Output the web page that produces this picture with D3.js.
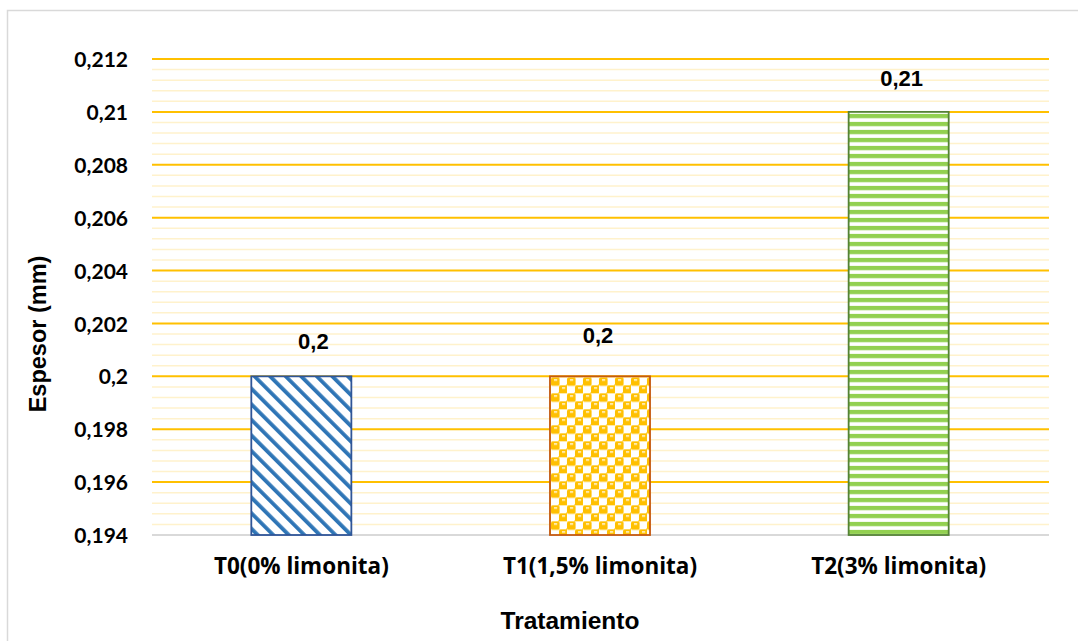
<!DOCTYPE html>
<html>
<head>
<meta charset="utf-8">
<script src="https://cdn.jsdelivr.net/npm/d3@7/dist/d3.min.js"></script>
<style>
  html, body { margin: 0; padding: 0; background: #ffffff; }
  svg { display: block; }
</style>
</head>
<body>
<svg id="chart" width="1078" height="641"></svg>
<script>
// Thickness by treatment
const categories = ["T0(0% limonita)", "T1(1,5% limonita)", "T2(3% limonita)"];
const espesor = [0.2, 0.2, 0.21];
const yTicks = [0.194, 0.196, 0.198, 0.2, 0.202, 0.204, 0.206, 0.208, 0.21, 0.212];
const yTickLabels = ["0,194", "0,196", "0,198", "0,2", "0,202", "0,204", "0,206", "0,208", "0,21", "0,212"];
const valueLabels = ["0,2", "0,2", "0,21"];

const W = 1078, H = 641;
const plot = { left: 152, right: 1048, top: 59, bottom: 535 };

const svg = d3.select("#chart");

svg.append("rect").attr("width", W).attr("height", H).attr("fill", "#ffffff");
// chart frame
svg.append("rect")
  .attr("x", 7.5).attr("y", 10.5).attr("width", 1200).attr("height", 800)
  .attr("fill", "none").attr("stroke", "#d9d9d9").attr("stroke-width", 1.5);

const y = d3.scaleLinear().domain([0.194, 0.212]).range([plot.bottom, plot.top]);
const x = d3.scaleBand().domain(categories).range([plot.left, plot.right])
  .paddingInner(0.665).paddingOuter(0.3325);

// fill patterns for each bar
const defs = svg.append("defs");
const barStyle = [
  { id: "patDiag", stroke: "#2F5597" },
  { id: "patSphere", stroke: "#C55A11" },
  { id: "patHoriz", stroke: "#548235" }
];

function barTop(i) { return y(espesor[i]); }

// T0: wide downward diagonal
const p0 = defs.append("pattern").attr("id", "patDiag")
  .attr("patternUnits", "userSpaceOnUse").attr("width", 11).attr("height", 11)
  .attr("patternTransform", "rotate(-45)");
p0.append("rect").attr("width", 11).attr("height", 11).attr("fill", "#ffffff");
p0.append("rect").attr("x", 0).attr("width", 3.8).attr("height", 11).attr("fill", "#2E75B6");

// T1: sphere checker
const p1 = defs.append("pattern").attr("id", "patSphere")
  .attr("patternUnits", "userSpaceOnUse").attr("width", 16).attr("height", 16)
  .attr("x", x(categories[1]) + 1).attr("y", barTop(1) + 1);
p1.append("rect").attr("width", 16).attr("height", 16).attr("fill", "#ffffff");
[[0, 0], [8, 8]].forEach(([cx, cy]) => {
  p1.append("rect").attr("x", cx).attr("y", cy).attr("width", 8.6).attr("height", 8.6)
    .attr("rx", 1.6).attr("fill", "#FFC000");
  p1.append("rect").attr("x", cx + 3).attr("y", cy + 2).attr("width", 3.2).attr("height", 1.3)
    .attr("fill", "#ffffff");
});
// wrap-around corners keep the checker continuous
p1.append("rect").attr("x", 15.2).attr("y", 7.2).attr("width", 1.6).attr("height", 2).attr("fill", "#FFC000");
p1.append("rect").attr("x", 7.2).attr("y", 15.2).attr("width", 2).attr("height", 1.6).attr("fill", "#FFC000");

// T2: horizontal stripes
const p2 = defs.append("pattern").attr("id", "patHoriz")
  .attr("patternUnits", "userSpaceOnUse").attr("width", 8).attr("height", 8)
  .attr("x", 0).attr("y", barTop(2) + 2);
p2.append("rect").attr("width", 8).attr("height", 8).attr("fill", "#ffffff");
p2.append("rect").attr("y", 0).attr("width", 8).attr("height", 4.3).attr("fill", "#92D050");

// minor gridlines
const minor = d3.range(0, 46).filter(i => i % 5 !== 0).map(i => 0.194 + i * 0.0004);
svg.append("g").selectAll("line").data(minor).join("line")
  .attr("x1", plot.left).attr("x2", plot.right + 1)
  .attr("y1", d => y(d)).attr("y2", d => y(d))
  .attr("stroke", "#FFF2CC").attr("stroke-width", 1.5);

// major gridlines
svg.append("g").selectAll("line").data(yTicks.slice(1)).join("line")
  .attr("x1", plot.left).attr("x2", plot.right + 1)
  .attr("y1", d => y(d)).attr("y2", d => y(d))
  .attr("stroke", "#FFC000").attr("stroke-width", 2);

// category axis line
svg.append("line")
  .attr("x1", plot.left).attr("x2", plot.right + 1)
  .attr("y1", y(0.194)).attr("y2", y(0.194))
  .attr("stroke", "#d9d9d9").attr("stroke-width", 2);

// bars
svg.append("g").selectAll("rect").data(espesor).join("rect")
  .attr("x", (d, i) => x(categories[i]))
  .attr("y", d => y(d))
  .attr("width", x.bandwidth())
  .attr("height", d => y(0.194) - y(d))
  .attr("fill", (d, i) => `url(#${barStyle[i].id})`)
  .attr("stroke", (d, i) => barStyle[i].stroke)
  .attr("stroke-width", 1.8);

// value labels
const labelNudge = [12, -2, 3];
const labelLift = [27, 33, 26];
svg.append("g").selectAll("text").data(espesor).join("text")
  .attr("x", (d, i) => x(categories[i]) + x.bandwidth() / 2 + labelNudge[i])
  .attr("y", (d, i) => y(d) - labelLift[i])
  .attr("text-anchor", "middle")
  .attr("font-family", "'Liberation Sans', Arial, sans-serif")
  .attr("font-weight", "bold").attr("font-size", 22).attr("fill", "#000")
  .text((d, i) => valueLabels[i]);

// y axis
const yAxis = d3.axisLeft(y).tickValues(yTicks)
  .tickFormat((d, i) => yTickLabels[i]).tickSize(0).tickPadding(0);
const gy = svg.append("g").attr("transform", `translate(${plot.left - 24},0)`).call(yAxis);
gy.select(".domain").remove();
gy.selectAll("text")
  .attr("font-family", "Lato, 'Open Sans', sans-serif")
  .attr("font-weight", "bold").attr("font-size", 21).attr("fill", "#000")
  .attr("dy", "0.36em");

// x axis
const xAxis = d3.axisBottom(x).tickSize(0).tickPadding(0);
const gx = svg.append("g").attr("transform", `translate(0,${plot.bottom})`).call(xAxis);
gx.select(".domain").remove();
gx.selectAll("text")
  .attr("font-family", "'Open Sans', Lato, sans-serif")
  .attr("font-weight", "bold").attr("font-size", 22.5).attr("fill", "#000")
  .attr("y", 39).attr("dy", 0);

// axis titles
svg.append("text")
  .attr("transform", `translate(46,${(plot.top + plot.bottom) / 2 + 37}) rotate(-90)`)
  .attr("text-anchor", "middle")
  .attr("font-family", "'Liberation Sans', Arial, sans-serif")
  .attr("font-weight", "bold").attr("font-size", 23.5).attr("fill", "#000")
  .text("Espesor (mm)");

svg.append("text")
  .attr("x", 570).attr("y", 629)
  .attr("text-anchor", "middle")
  .attr("font-family", "'Liberation Sans', Arial, sans-serif")
  .attr("font-weight", "bold").attr("font-size", 24.5).attr("fill", "#000")
  .text("Tratamiento");
</script>
</body>
</html>
